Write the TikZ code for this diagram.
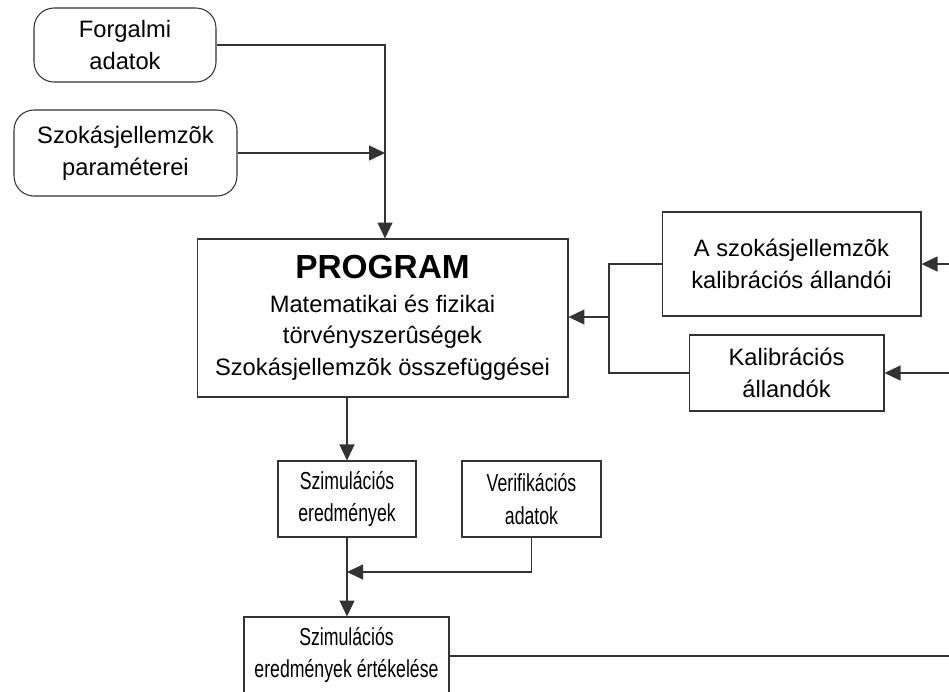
\documentclass[tikz,border=0pt]{standalone}
\usepackage{fontspec}
\setmainfont{Liberation Sans}
\newfontfamily\narrowfont{Liberation Sans}[FakeStretch=0.72]
\usetikzlibrary{arrows.meta}

\tikzset{
  box/.style={draw=black!80, line width=0.6pt, align=center, inner sep=0pt,
    font=\fontsize{13.5}{18}\selectfont},
  inbox/.style={box, rounded corners=0.4cm},
  resbox/.style={box, font=\narrowfont\fontsize{14}{18.5}\selectfont},
  arr/.style={-{Triangle[length=0.32cm,width=0.3cm]}},
  conn/.style={draw=black!80, line width=0.6pt}
}

\begin{document}
\begin{tikzpicture}[x=0.02cm, y=-0.02cm]
        \useasboundingbox (0,0) rectangle (949,691);
        \clip (0,0) rectangle (949,691);

        % inputs
        \node[inbox, minimum width=3.64cm, minimum height=1.48cm] at (125,45) (forg) {Forgalmi\\adatok};
        \node[inbox, minimum width=4.46cm, minimum height=1.72cm] at (125.5,153) (param) {Szokásjellemzõk\\paraméterei};

        % program
        \node[box, minimum width=7.42cm, minimum height=3.16cm] at (382.5,318) (prog)
          {{\fontsize{19}{22}\selectfont\bfseries PROGRAM}\\[1pt]
           Matematikai és fizikai\\törvényszerûségek\\Szokásjellemzõk összefüggései};

        % calibration
        \node[box, minimum width=5.18cm, minimum height=2.08cm] at (791.5,264) (kalA) {A szokásjellemzõk\\kalibrációs állandói};
        \node[box, minimum width=3.90cm, minimum height=1.52cm] at (786.5,373) (kalB) {Kalibrációs\\állandók};

        % results
        \node[resbox, minimum width=2.76cm, minimum height=1.52cm] at (347,499) (sim) {Szimulációs\\eredmények};
        \node[resbox, minimum width=2.78cm, minimum height=1.52cm] at (531.5,499) (ver) {Verifikációs\\adatok};
        \node[resbox, minimum width=4.10cm, minimum height=1.52cm] at (346.5,655) (eval) {Szimulációs\\eredmények értékelése};

        \coordinate (jtop) at (385,153);
        \coordinate (jkal) at (609,317);
        \coordinate (jver) at (347,572);
        \coordinate (inA) at (949,264);
        \coordinate (inB) at (949,373);
        \coordinate (outE) at (949,656);

        \draw[conn] (forg.east) -| (jtop);
        \draw[conn, arr] (param.east) -- (jtop);
        \draw[conn, arr] (jtop) -- (jtop |- prog.north);
        \draw[conn, arr] (inA) -- (kalA.east);
        \draw[conn, arr] (inB) -- (kalB.east);
        \draw[conn] (kalA.west) -| (jkal);
        \draw[conn] (kalB.west) -| (jkal);
        \draw[conn, arr] (jkal) -- (jkal -| prog.east);
        \draw[conn, arr] (sim.north |- prog.south) -- (sim.north);
        \draw[conn] (sim.south) -- (jver);
        \draw[conn, arr] (ver.south) |- (jver);
        \draw[conn, arr] (jver) -- (jver |- eval.north);
        \draw[conn] (eval.east |- outE) -- (outE);
      \end{tikzpicture}
\end{document}
